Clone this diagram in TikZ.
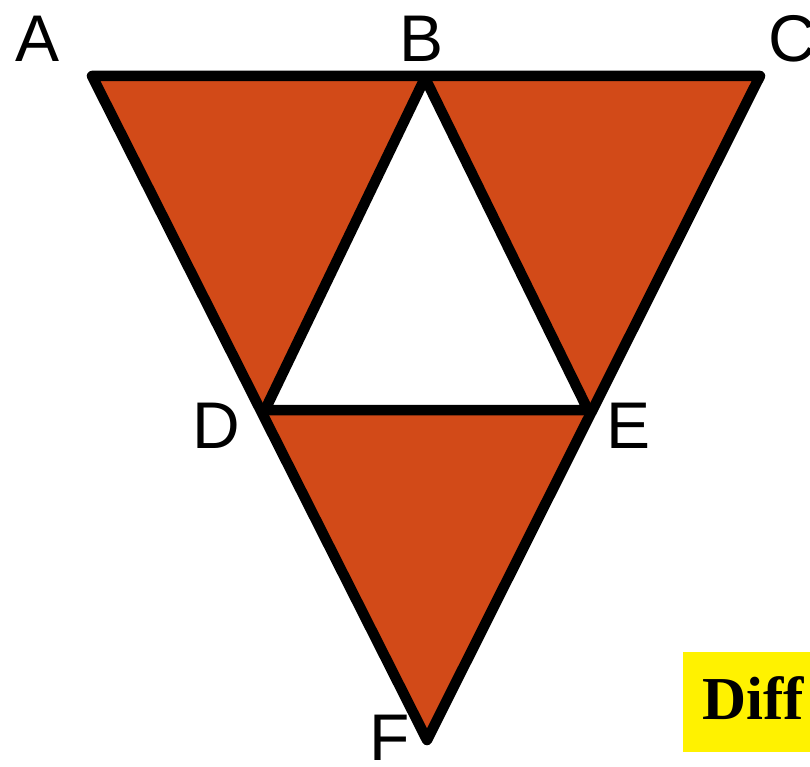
\documentclass[tikz,border=0pt]{standalone}
\usepackage{fontspec}
\setmainfont{Liberation Serif}
\setsansfont{Liberation Sans}
\definecolor{tri}{HTML}{D24A18}
\begin{document}
\begin{tikzpicture}[x=1pt,y=-1pt,
  lbl/.style={font=\sffamily\fontsize{66}{66}\selectfont,anchor=base,inner sep=0pt},
  edge/.style={line width=10.5pt,line join=round,line cap=round}]
\useasboundingbox (0,0) rectangle (810,767);
\coordinate (A) at (92,76);
\coordinate (B) at (425,78);
\coordinate (C) at (760,76);
\coordinate (D) at (265,410);
\coordinate (E) at (588,410);
\coordinate (F) at (427,740);
\fill[tri] (A) -- (B) -- (D) -- cycle;
\fill[tri] (B) -- (C) -- (E) -- cycle;
\fill[tri] (D) -- (E) -- (F) -- cycle;
\draw[edge] (A) -- (C) -- (F) -- cycle;
\draw[edge] (B) -- (D) -- (E) -- cycle;
\node[lbl] (la) at (38,62) {A};
\node[lbl] (lb) at (422,62) {B};
\node[lbl] (lc) at (792,62) {C};
\node[lbl] (ld) at (216,448) {D};
\node[lbl] (le) at (629,448) {E};
\node[lbl] (lf) at (390,760) {F};
\fill[yellow] (683,652) rectangle (815,752);
\node[font=\rmfamily\bfseries\fontsize{61}{61}\selectfont,anchor=base west,inner sep=0pt] (diff) at (702,719) {Diff};
\end{tikzpicture}
\end{document}
